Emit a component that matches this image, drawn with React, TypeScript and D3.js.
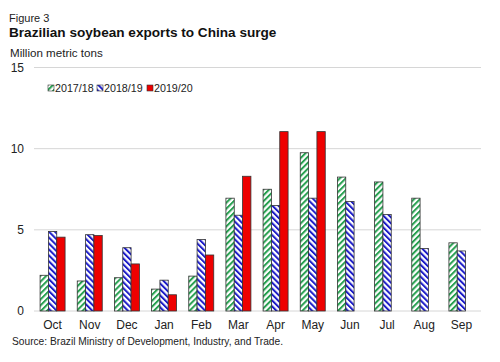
import React, { useEffect, useRef } from "react";
import * as d3 from "d3";

const months = ["Oct", "Nov", "Dec", "Jan", "Feb", "Mar", "Apr", "May", "Jun", "Jul", "Aug", "Sep"];
const seriesNames = ["2017/18", "2018/19", "2019/20"];
const v1718 = [2.2, 1.85, 2.05, 1.35, 2.15, 6.95, 7.5, 9.75, 8.25, 7.95, 6.95, 4.2];
const v1819 = [4.9, 4.7, 3.9, 1.9, 4.4, 5.9, 6.5, 6.95, 6.75, 5.95, 3.85, 3.7];
const v1920: (number | null)[] = [4.55, 4.65, 2.9, 1.0, 3.45, 8.3, 11.05, 11.05, null, null, null, null];
const yTicks = [0, 5, 10, 15];

const FONT = "Liberation Sans, Arial, sans-serif";

export default function App() {
  const ref = useRef<SVGSVGElement>(null);

  useEffect(() => {
    const dims = { width: 500, height: 362, left: 34, right: 480, top: 67.5, bottom: 311 };
    const svg = d3.select(ref.current);
    svg.selectAll("*").remove();

    // patterns
    const defs = svg.append("defs");
    const makePattern = (id: string, color: string, angle: number) => {
      const p = defs.append("pattern")
        .attr("id", id)
        .attr("patternUnits", "userSpaceOnUse")
        .attr("width", 4.2)
        .attr("height", 4.2)
        .attr("patternTransform", `rotate(${angle})`);
      p.append("rect").attr("width", 4.2).attr("height", 4.2).attr("fill", "white");
      p.append("rect").attr("width", 2).attr("height", 4.2).attr("fill", color);
    };
    makePattern("green-hatch", "#27a050", 45);
    makePattern("blue-hatch", "#1c1cc8", -45);

    const fills = ["url(#green-hatch)", "url(#blue-hatch)", "#ee0000"];

    const xScale = d3.scaleBand().domain(months).range([dims.left, dims.right]);
    const groupW = 25;
    const innerScale = d3.scaleBand().domain(seriesNames).range([0, groupW]);
    const offset = (xScale.bandwidth() - groupW) / 2;
    const yScale = d3.scaleLinear().domain([0, 15]).range([dims.bottom, dims.top]);

    // gridlines
    svg.append("g")
      .selectAll("line")
      .data(yTicks)
      .join("line")
      .attr("x1", dims.left)
      .attr("x2", dims.right + 1)
      .attr("y1", d => yScale(d))
      .attr("y2", d => yScale(d))
      .attr("stroke", "#d6d6d6")
      .attr("stroke-width", 1);

    svg.append("g")
      .selectAll("text")
      .data(yTicks)
      .join("text")
      .attr("x", 24)
      .attr("y", d => yScale(d) + 4)
      .attr("text-anchor", "end")
      .attr("font-family", FONT)
      .attr("font-size", 12)
      .attr("fill", "#222")
      .text(d => d);

    // bars
    const series = [v1718, v1819, v1920];
    series.forEach((vals, si) => {
      const rows = months
        .map((m, i) => ({ m, v: vals[i] }))
        .filter(d => d.v != null) as { m: string; v: number }[];
      svg.append("g")
        .selectAll("rect")
        .data(rows)
        .join("rect")
        .attr("x", d => (xScale(d.m) as number) + offset + (innerScale(seriesNames[si]) as number))
        .attr("y", d => yScale(d.v))
        .attr("width", innerScale.bandwidth())
        .attr("height", d => yScale(0) - yScale(d.v))
        .attr("fill", fills[si])
        .attr("stroke", "#333")
        .attr("stroke-width", 0.8);
    });

    // x labels
    svg.append("g")
      .selectAll("text")
      .data(months)
      .join("text")
      .attr("x", d => (xScale(d) as number) + xScale.bandwidth() / 2)
      .attr("y", 329)
      .attr("text-anchor", "middle")
      .attr("font-family", FONT)
      .attr("font-size", 12)
      .attr("fill", "#222")
      .text(d => d);

    // legend
    const legendX = [48, 97, 147];
    const legend = svg.append("g");
    seriesNames.forEach((name, i) => {
      legend.append("rect")
        .attr("x", legendX[i])
        .attr("y", 85)
        .attr("width", 6)
        .attr("height", 6)
        .attr("fill", fills[i])
        .attr("stroke", "#333")
        .attr("stroke-width", 0.6);
      legend.append("text")
        .attr("x", legendX[i] + 7)
        .attr("y", 92)
        .attr("font-family", FONT)
        .attr("font-size", 10.7)
        .attr("fill", "#222")
        .text(name);
    });

    // titles
    svg.append("text")
      .attr("x", 9).attr("y", 22)
      .attr("font-family", FONT).attr("font-size", 11).attr("fill", "#222")
      .text("Figure 3");
    svg.append("text")
      .attr("x", 9).attr("y", 37)
      .attr("font-family", FONT).attr("font-size", 13.6).attr("font-weight", "bold").attr("fill", "#111")
      .text("Brazilian soybean exports to China surge");
    svg.append("text")
      .attr("x", 10).attr("y", 57)
      .attr("font-family", FONT).attr("font-size", 11.6).attr("fill", "#222")
      .text("Million metric tons");
    svg.append("text")
      .attr("x", 12).attr("y", 345)
      .attr("font-family", FONT).attr("font-size", 10.2).attr("fill", "#222")
      .text("Source: Brazil Ministry of Development, Industry, and Trade.");
  }, []);

  return (
    <svg
      ref={ref}
      width={500}
      height={362}
      style={{ position: "absolute", left: 0, top: 0, background: "white" }}
    />
  );
}
